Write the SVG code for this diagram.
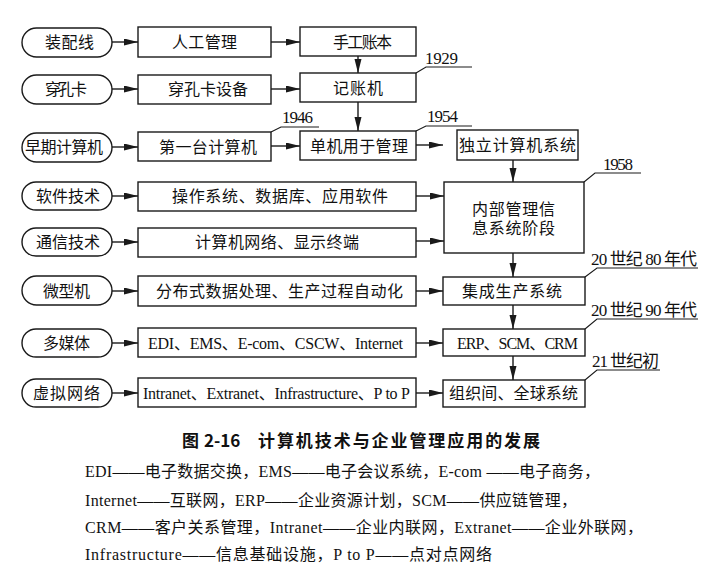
<svg xmlns="http://www.w3.org/2000/svg" width="720" height="581" viewBox="0 0 720 581">
<defs>
<style>
.shape{fill:#fff;stroke:#1a1a1a;stroke-width:1.4}
.ln{fill:none;stroke:#1a1a1a;stroke-width:1.4}
.lead{fill:none;stroke:#1a1a1a;stroke-width:1.1}
.arr{fill:none;stroke:#1a1a1a;stroke-width:1.4;marker-end:url(#ah)}
text{font-family:"Liberation Serif","Noto Sans CJK SC",serif;fill:#111;font-size:16px}
.lat{font-size:17px}
.lat2{font-size:16px}
.cap{font-family:"Noto Sans CJK SC",sans-serif;font-weight:bold;font-size:17px}
.note{font-size:16px}
</style>
<marker id="ah" markerUnits="userSpaceOnUse" markerWidth="15" markerHeight="8" refX="14" refY="3.5" orient="auto">
<path d="M0,0 L14,3.5 L0,7 z" fill="#1a1a1a"/>
</marker>
</defs>
<rect width="720" height="581" fill="#fff"/>

<g id="connectors">
<line class="arr" x1="112" y1="42" x2="138" y2="42"/>
<line class="arr" x1="271" y1="42" x2="300" y2="42"/>
<line class="arr" x1="112" y1="89" x2="138" y2="89"/>
<line class="arr" x1="271" y1="89" x2="300" y2="89"/>
<line class="arr" x1="112" y1="147" x2="138" y2="147"/>
<line class="arr" x1="271" y1="146" x2="300" y2="146"/>
<line class="arr" x1="416" y1="145" x2="443" y2="145"/>
<line class="arr" x1="112" y1="196" x2="138" y2="196"/>
<line class="arr" x1="416" y1="196" x2="444" y2="196"/>
<line class="arr" x1="112" y1="242" x2="138" y2="242"/>
<line class="arr" x1="416" y1="241" x2="444" y2="241"/>
<line class="arr" x1="112" y1="291" x2="138" y2="291"/>
<line class="arr" x1="416" y1="291" x2="443" y2="291"/>
<line class="arr" x1="112" y1="343" x2="138" y2="343"/>
<line class="arr" x1="416" y1="343" x2="443" y2="343"/>
<line class="arr" x1="112" y1="393" x2="138" y2="393"/>
<line class="arr" x1="416" y1="393" x2="443" y2="393"/>
<line class="arr" x1="358" y1="56" x2="358" y2="73"/>
<line class="arr" x1="358" y1="102" x2="358" y2="131"/>
<line class="arr" x1="513" y1="160" x2="513" y2="182"/>
<line class="arr" x1="513" y1="253" x2="513" y2="277"/>
<line class="arr" x1="513" y1="305" x2="513" y2="329"/>
<line class="arr" x1="513" y1="356" x2="513" y2="380"/>
<polyline class="lead" points="416,73 426,67 472,67"/>
<polyline class="lead" points="271,132 281,127 319,127"/>
<polyline class="lead" points="416,131 426,126 472,126"/>
<polyline class="lead" points="584,182 595,173 641,173"/>
<polyline class="lead" points="585,277 597,268 698,268"/>
<polyline class="lead" points="585,329 597,319 698,319"/>
<polyline class="lead" points="585,380 597,370 660,370"/>
</g>

<g id="p1"><rect class="shape" x="22" y="28" width="90" height="29" rx="14.5"/><text x="45" y="48" textLength="49">装配线</text></g>
<g id="p2"><rect class="shape" x="22" y="75" width="90" height="29" rx="14.5"/><text x="45" y="95" textLength="42">穿孔卡</text></g>
<g id="p3"><rect class="shape" x="22" y="133" width="90" height="29" rx="14.5"/><text x="25" y="153" textLength="78">早期计算机</text></g>
<g id="p4"><rect class="shape" x="22" y="182" width="90" height="28" rx="14"/><text x="36" y="202" textLength="64">软件技术</text></g>
<g id="p5"><rect class="shape" x="22" y="228" width="90" height="28" rx="14"/><text x="36" y="248" textLength="64">通信技术</text></g>
<g id="p6"><rect class="shape" x="22" y="276" width="90" height="29" rx="14.5"/><text x="43" y="297" textLength="47">微型机</text></g>
<g id="p7"><rect class="shape" x="22" y="329" width="90" height="28" rx="14"/><text x="43" y="349" textLength="47">多媒体</text></g>
<g id="p8"><rect class="shape" x="22" y="379" width="90" height="28" rx="14"/><text x="33" y="399" textLength="67">虚拟网络</text></g>

<g id="b1"><rect class="shape" x="138" y="27" width="133" height="30"/><text x="172" y="48" textLength="65">人工管理</text></g>
<g id="b2"><rect class="shape" x="300" y="27" width="116" height="29"/><text x="333" y="48" textLength="59">手工账本</text></g>
<g id="b3"><rect class="shape" x="138" y="75" width="133" height="29"/><text x="168" y="95" textLength="80">穿孔卡设备</text></g>
<g id="b4"><rect class="shape" x="300" y="73" width="116" height="29"/><text x="333" y="94" textLength="50">记账机</text></g>
<g id="b5"><rect class="shape" x="138" y="132" width="133" height="29"/><text x="159" y="153" textLength="98">第一台计算机</text></g>
<g id="b6"><rect class="shape" x="300" y="131" width="116" height="29"/><text x="310" y="152" textLength="98">单机用于管理</text></g>
<g id="b7"><rect class="shape" x="457" y="130" width="121" height="30"/><text x="459" y="151" textLength="117">独立计算机系统</text></g>
<g id="b8"><rect class="shape" x="138" y="182" width="278" height="29"/><text x="172" y="202" textLength="216">操作系统、数据库、应用软件</text></g>
<g id="b9"><rect class="shape" x="138" y="228" width="278" height="29"/><text x="195" y="248" textLength="164">计算机网络、显示终端</text></g>
<g id="b10"><rect class="shape" x="138" y="276" width="278" height="30"/><text x="156" y="297" textLength="247">分布式数据处理、生产过程自动化</text></g>
<g id="b11"><rect class="shape" x="138" y="328" width="278" height="29"/><text class="lat2" x="148" y="349" textLength="255">EDI、EMS、E-com、CSCW、Internet</text></g>
<g id="b12"><rect class="shape" x="138" y="378" width="278" height="29"/><text class="lat2" x="143" y="399" textLength="267">Intranet、Extranet、Infrastructure、P to P</text></g>
<g id="b13"><rect class="shape" x="444" y="182" width="140" height="71"/><text x="472" y="215" textLength="83">内部管理信</text><text x="472" y="234" textLength="83">息系统阶段</text></g>
<g id="b14"><rect class="shape" x="443" y="277" width="142" height="28"/><text x="462" y="297" textLength="100">集成生产系统</text></g>
<g id="b15"><rect class="shape" x="443" y="329" width="142" height="27"/><text class="lat2" x="457" y="349" textLength="121">ERP、SCM、CRM</text></g>
<g id="b16"><rect class="shape" x="443" y="380" width="142" height="27"/><text x="449" y="399" textLength="129">组织间、全球系统</text></g>

<g id="labels">
<text class="lat" x="425" y="64" textLength="33">1929</text>
<text class="lat" x="282" y="123" textLength="31">1946</text>
<text class="lat" x="427" y="122" textLength="31">1954</text>
<text class="lat" x="603" y="170" textLength="30">1958</text>
<text class="lat" x="591" y="265" textLength="106">20 世纪 80 年代</text>
<text class="lat" x="591" y="316" textLength="106">20 世纪 90 年代</text>
<text class="lat" x="592" y="367" textLength="67">21 世纪初</text>
</g>

<g id="caption">
<text class="cap" y="447"><tspan x="182">图</tspan><tspan x="204">2-16</tspan><tspan x="258" textLength="282">计算机技术与企业管理应用的发展</tspan></text>
<text class="note" x="85" y="477" textLength="515">EDI——电子数据交换，EMS——电子会议系统，E-com ——电子商务，</text>
<text class="note" x="85" y="506" textLength="492">Internet——互联网，ERP——企业资源计划，SCM——供应链管理，</text>
<text class="note" x="85" y="533" textLength="558">CRM——客户关系管理，Intranet——企业内联网，Extranet——企业外联网，</text>
<text class="note" x="85" y="560" textLength="407">Infrastructure——信息基础设施，P to P——点对点网络</text>
</g>
</svg>
